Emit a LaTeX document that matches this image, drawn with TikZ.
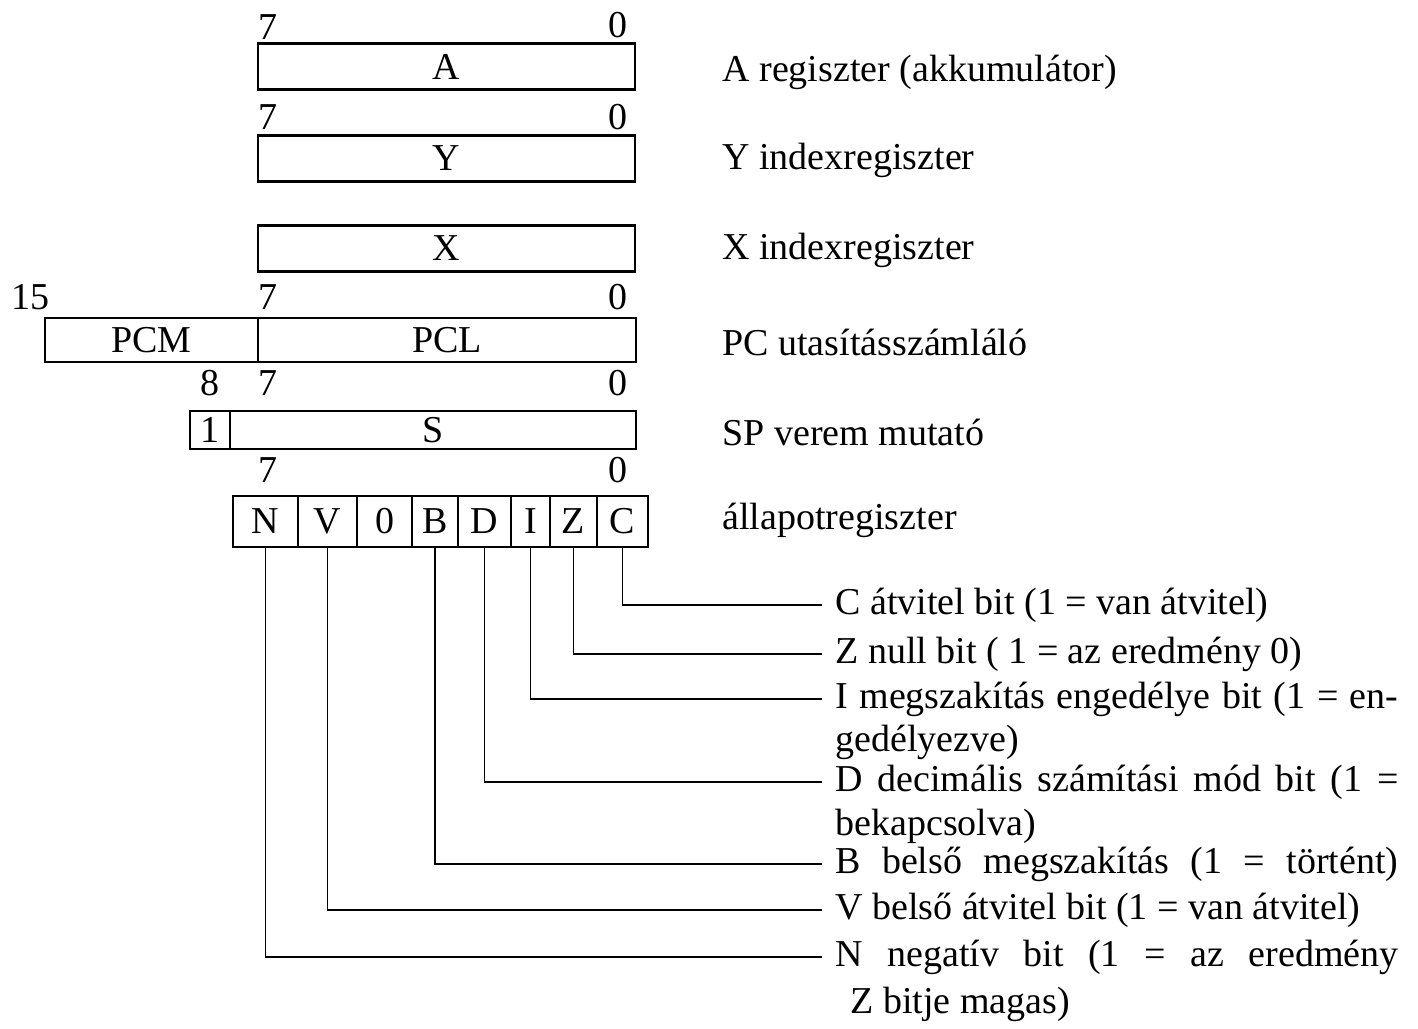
\documentclass[tikz,border=0pt]{standalone}
\usepackage{fontspec}
\setmainfont{Liberation Serif}
\usetikzlibrary{positioning}
\tikzset{
  font=\fontsize{19}{22}\selectfont,
  reg/.style={rectangle,draw=black,line width=1.2pt,inner sep=0pt,minimum height=23pt},
  cell/.style={rectangle,draw=black,line width=1.2pt,inner sep=0pt,minimum height=25.5pt},
  bitnum/.style={inner sep=0pt},
  regname/.style={anchor=west,inner sep=0pt},
  desc/.style={anchor=west,inner xsep=6.5pt,inner ysep=0pt},
  descmore/.style={anchor=west,inner sep=0pt},
  wire/.style={draw=black,line width=0.9pt},
}
\newcommand{\fullline}[1]{\makebox[281.5pt][s]{#1}}

\begin{document}
\begin{tikzpicture}[x=0.5pt,y=-0.5pt]

\useasboundingbox (0,0) rectangle (1418,1028);

\node[reg,minimum width=188.5pt] (A) at (446.5,66.5) {A};
\node[bitnum] (a7) at (268,27) {7};
\node[bitnum] (a0) at (618,25) {0};
\node[regname] (lA) at (722,72) {A regiszter (akkumulátor)};

\node[reg,minimum width=188.5pt] (Y) at (446.5,158.5) {Y};
\node[bitnum] (y7) at (268,117) {7};
\node[bitnum] (y0) at (618,117) {0};
\node[regname] (lY) at (722,160) {Y indexregiszter};

\node[reg,minimum width=188.5pt] (X) at (446.5,248.5) {X};
\node[regname] (lX) at (722,250) {X indexregiszter};

\node[reg,minimum width=106.5pt,minimum height=22pt] (PCM) at (151.5,340) {PCM};
\node[reg,minimum width=189pt,minimum height=22pt] (PCL) at (447,340) {PCL};
\node[bitnum] (p15) at (30,297) {15};
\node[bitnum] (p7) at (268,297) {7};
\node[bitnum] (p0) at (618,297) {0};
\node[regname] (lPC) at (722,342) {PC utasításszámláló};

\node[reg,minimum width=20pt,minimum height=19pt] (S8) at (210,430) {1};
\node[reg,minimum width=203pt,minimum height=19pt] (S) at (433,430) {S};
\node[bitnum] (s8) at (210,383) {8};
\node[bitnum] (s7) at (268,383) {7};
\node[bitnum] (s0) at (618,383) {0};
\node[regname] (lSP) at (722,432) {SP verem mutató};

\node[cell,minimum width=32.5pt] (cN) at (265.5,521.5) {N};
\node[cell,minimum width=29.5pt] (cV) at (327.5,521.5) {V};
\node[cell,minimum width=27.5pt] (c0) at (384.5,521.5) {0};
\node[cell,minimum width=23pt] (cB) at (435,521.5) {B};
\node[cell,minimum width=26.5pt] (cD) at (484.5,521.5) {D};
\node[cell,minimum width=19.5pt] (cI) at (530.5,521.5) {I};
\node[cell,minimum width=23.5pt] (cZ) at (573.5,521.5) {Z};
\node[cell,minimum width=25.5pt] (cC) at (622.5,521.5) {C};
\node[bitnum] (f7) at (268,470) {7};
\node[bitnum] (f0) at (618,470) {0};
\node[regname] (lF) at (722,520) {állapotregiszter};

\node[desc] (dC) at (822,605) {C átvitel bit (1 = van átvitel)};
\node[desc] (dZ) at (822,654) {Z null bit ( 1 = az eredmény 0)};
\node[desc] (dI) at (822,699) {\fullline{I megszakítás engedélye bit (1 = en-}};
\node[descmore] (dI2) at (835,742) {gedélyezve)};
\node[desc] (dD) at (822,782) {\fullline{D decimális számítási mód bit (1 =}};
\node[descmore] (dD2) at (835,826) {bekapcsolva)};
\node[desc] (dB) at (822,864) {\fullline{B belső megszakítás (1 = történt)}};
\node[desc] (dV) at (822,910) {V belső átvitel bit (1 = van átvitel)};
\node[desc] (dN) at (822,957) {\fullline{N negatív bit (1 = az eredmény}};
\node[descmore] (dN2) at (850,1004) {Z bitje magas)};

\draw[wire] (cC.south) |- (dC.west);
\draw[wire] (cZ.south) |- (dZ.west);
\draw[wire] (cI.south) |- (dI.west);
\draw[wire] (cD.south) |- (dD.west);
\draw[wire] (cB.south) |- (dB.west);
\draw[wire] (cV.south) |- (dV.west);
\draw[wire] (cN.south) |- (dN.west);

\end{tikzpicture}
\end{document}
